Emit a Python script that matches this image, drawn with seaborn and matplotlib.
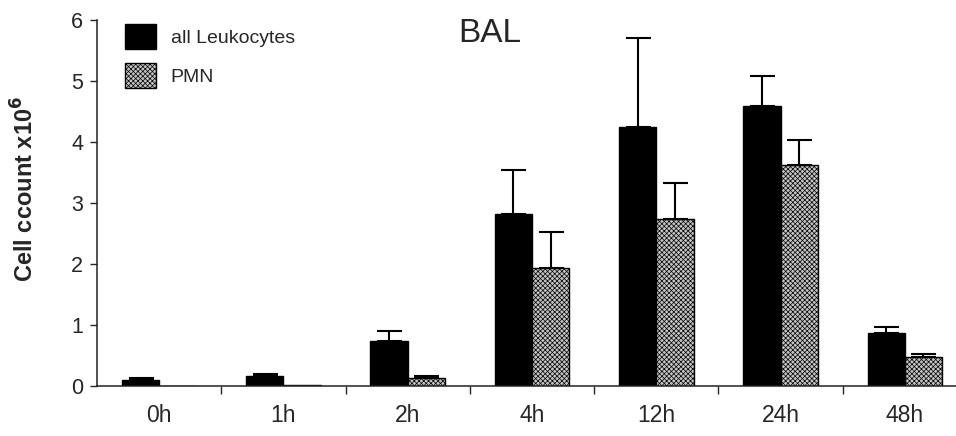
import numpy as np
import pandas as pd
import seaborn as sns
import matplotlib.pyplot as plt
from matplotlib.patches import Patch

times = ["0h", "1h", "2h", "4h", "12h", "24h", "48h"]
leuko_mean = [0.10, 0.17, 0.74, 2.82, 4.25, 4.59, 0.87]
leuko_err = [0.03, 0.02, 0.16, 0.72, 1.45, 0.49, 0.10]
pmn_mean = [0.0, 0.02, 0.13, 1.93, 2.74, 3.62, 0.47]
pmn_err = [0.0, 0.0, 0.03, 0.59, 0.58, 0.41, 0.05]

sns.set_style("ticks")
plt.rcParams["font.family"] = ["Liberation Sans", "DejaVu Sans"]
plt.rcParams["hatch.linewidth"] = 0.5
plt.rcParams["hatch.color"] = "#303030"

df = pd.DataFrame({
    "time": times * 2,
    "count": leuko_mean + pmn_mean,
    "err": leuko_err + pmn_err,
    "type": ["all Leukocytes"] * 7 + ["PMN"] * 7,
})

fig = plt.figure(figsize=(9.56, 4.36), dpi=100)
ax = fig.add_axes([97 / 956, 50 / 436, 870 / 956, 366 / 436])

sns.barplot(data=df, x="time", y="count", hue="type", order=times,
            hue_order=["all Leukocytes", "PMN"],
            palette={"all Leukocytes": "black", "PMN": "#c4c4c4"},
            width=0.6, edgecolor="black", linewidth=1, errorbar=None,
            legend=False, ax=ax)

for bar in ax.containers[1]:
    bar.set_hatch("xxxxxxx")

# one-sided error bars from bar tops
for cont, errs in zip(ax.containers, [leuko_err, pmn_err]):
    for bar, e in zip(cont, errs):
        if e <= 0:
            continue
        xc = bar.get_x() + bar.get_width() / 2
        ax.errorbar(xc, bar.get_height(), yerr=[[0], [e]], fmt="none",
                    ecolor="black", elinewidth=1.5, capsize=9, capthick=1.5)

ax.set_xlim(-0.5, 6.5)
ax.set_ylim(0, 6)
ax.set_yticks(range(7))
ax.set_xlabel("")
ax.set_ylabel(r"Cell ccount x10$^\mathbf{6}$", fontsize=17, fontweight="bold")
ax.yaxis.set_label_coords(-0.067, 0.538)
ax.tick_params(axis="x", which="major", length=0, pad=13, labelsize=16.5)
ax.set_xticks(np.arange(0.5, 6, 1), minor=True)
ax.tick_params(axis="x", which="minor", length=6, width=1, direction="out")
ax.tick_params(axis="y", length=5, width=1, labelsize=15.5, pad=5)
for s in ["left", "bottom"]:
    ax.spines[s].set_color("#222222")
    ax.spines[s].set_linewidth(1.1)
sns.despine(ax=ax)

ax.text(0.452, 0.962, "BAL", transform=ax.transAxes, ha="center", va="center",
        fontsize=24)

handles = [Patch(facecolor="black", edgecolor="black"),
           Patch(facecolor="#c4c4c4", edgecolor="black", hatch="xxxxxxx")]
ax.legend(handles, ["all Leukocytes", "PMN"], loc="upper left",
          bbox_to_anchor=(28 / 870, 0.99), frameon=False, fontsize=14,
          handlelength=1.6, handleheight=1.6, handletextpad=0.75,
          labelspacing=0.75, borderpad=0, borderaxespad=0)

fig.savefig("out.png", dpi=100)
